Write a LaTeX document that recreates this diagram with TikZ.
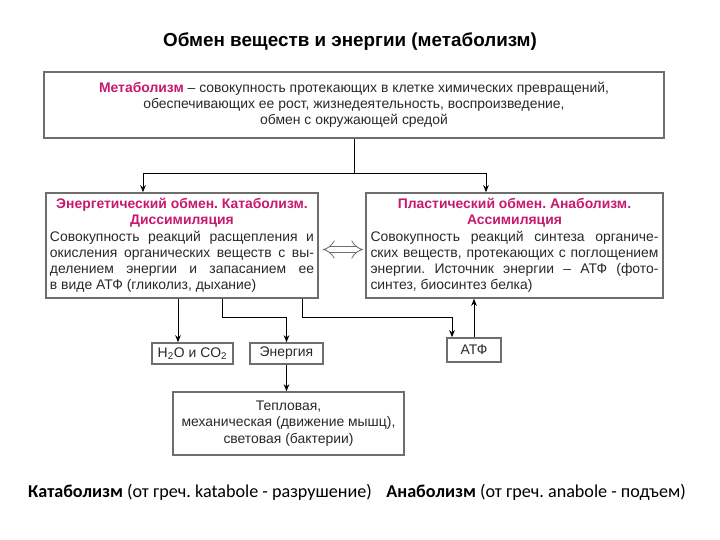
\documentclass[tikz,border=0pt]{standalone}
\usepackage{fontspec}
\setmainfont{Liberation Sans}
\newfontfamily\calibrifont{Carlito}
\usetikzlibrary{arrows.meta}
\definecolor{pinkhead}{RGB}{200,25,110}
\definecolor{boxline}{RGB}{110,110,110}
\definecolor{bodytext}{RGB}{40,40,40}
\frenchspacing
\begin{document}
\begin{tikzpicture}[
  box/.style={draw=boxline, line width=1.1pt, fill=white, inner sep=0pt, text=bodytext},
  bodyfont/.style={font=\fontsize{9.9}{11.5}\selectfont},
  link/.style={-{Stealth[length=5pt,width=4pt]}, line width=0.7pt}
]
\useasboundingbox (0,0) rectangle (18,13.5);
\node (title) at (8.75,12.45) {\fontsize{13.4}{16}\selectfont\bfseries Обмен веществ и энергии (метаболизм)};
\node[box, bodyfont, minimum width=15.5cm, minimum height=1.65cm, align=center] (meta) at (8.85,10.875)
  {{\color{pinkhead}\bfseries Метаболизм} – совокупность протекающих в клетке химических превращений,\\
   обеспечивающих ее рост, жизнедеятельность, воспроизведение,\\
   обмен с окружающей средой};
\node[box, bodyfont, minimum width=6.8cm, minimum height=2.625cm, text width=6.6cm, align=justify] (cat) at (4.55,7.3625)
  {{\centering\bfseries\color{pinkhead} Энергетический обмен. Катаболизм.\\ Диссимиляция\par}
   Совокупность реакций расщепления и\linebreak
   окисления органических веществ с вы-\linebreak
   делением энергии и запасанием ее\linebreak
   в виде АТФ (гликолиз, дыхание)};
\node[box, bodyfont, minimum width=7.425cm, minimum height=2.625cm, text width=7.2cm, align=justify] (ana) at (12.8625,7.3625)
  {{\centering\bfseries\color{pinkhead} Пластический обмен. Анаболизм.\\ Ассимиляция\par}
   Совокупность реакций синтеза органиче-\linebreak
   ских веществ, протекающих с поглощением\linebreak
   энергии. Источник энергии – АТФ (фото-\linebreak
   синтез, биосинтез белка)};
\node[box, bodyfont, minimum width=2.025cm, minimum height=0.525cm] (h2o) at (4.8125,4.6625) {H\textsubscript{2}O и CO\textsubscript{2}};
\node[box, bodyfont, minimum width=1.825cm, minimum height=0.525cm] (energy) at (7.1625,4.6625) {Энергия};
\node[box, bodyfont, minimum width=1.35cm, minimum height=0.6cm] (atf) at (11.85,4.75) {АТФ};
\node[box, bodyfont, minimum width=5.775cm, minimum height=1.575cm, align=center] (forms) at (7.2125,2.9125)
  {Тепловая,\\ механическая (движение мышц),\\ световая (бактерии)};
\node (note) at (8.925,1.2) {\calibrifont\fontsize{12.9}{15}\selectfont \textbf{Катаболизм} (от греч. katabole - разрушение)\hspace{0.8em}\textbf{Анаболизм} (от греч. anabole - подъем)};
\draw[link] (meta.south) -- ++(0,-0.875) -| ([xshift=-0.975cm]cat.north);
\draw[link] (meta.south) -- ++(0,-0.875) -| ([xshift=-0.7125cm]ana.north);
\draw[double=white, double distance=4pt, line width=0.6pt, draw=boxline, {Implies}-{Implies}, shorten <=0.1cm, shorten >=0.05cm]
  ([yshift=-0.1cm]cat.east) -- ([yshift=-0.1cm]ana.west);
\draw[link] (cat.south -| 4.45,0) -- (h2o.north -| 4.45,0);
\draw[link] (cat.south -| 5.55,0) |- ([yshift=0.625cm]energy.north) -- (energy.north);
\draw[link] (cat.south -| 7.55,0) |- ([xshift=-0.55cm,yshift=0.5cm]atf.north) -- ([xshift=-0.55cm]atf.north);
\draw[link] (atf.north) -- (atf.north |- ana.south);
\draw[link] (energy.south) -- (energy.south |- forms.north);
\end{tikzpicture}
\end{document}
